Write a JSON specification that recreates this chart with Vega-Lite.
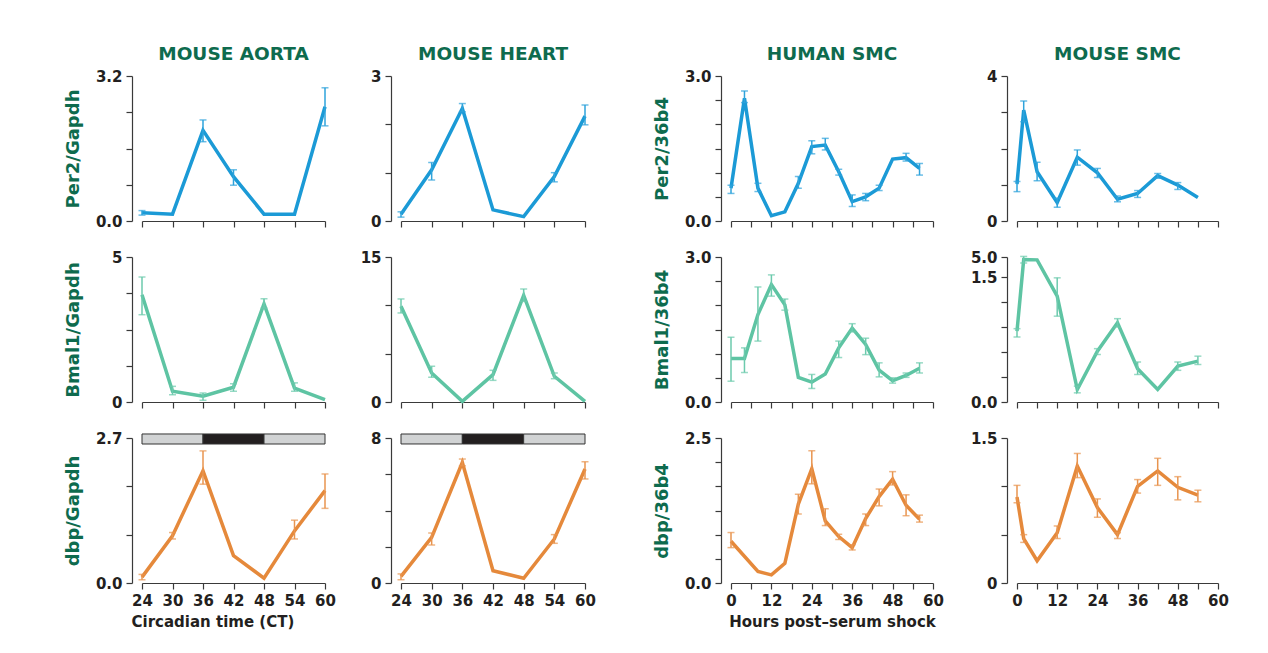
{
  "$schema": "https://vega.github.io/schema/vega-lite/v6.json",
  "background": "white",
  "padding": {"left": 64, "top": 44, "right": 5, "bottom": 5},
  "datasets": {
    "main": [
      {"p":"A1","t":24,"v":0.18,"lo":0.13,"hi":0.23},
      {"p":"A1","t":30,"v":0.15},
      {"p":"A1","t":36,"v":2.0,"lo":1.75,"hi":2.23},
      {"p":"A1","t":42,"v":0.98,"lo":0.79,"hi":1.13},
      {"p":"A1","t":48,"v":0.15},
      {"p":"A1","t":54,"v":0.15},
      {"p":"A1","t":60,"v":2.52,"lo":2.10,"hi":2.94},
      {"p":"H1","t":24,"v":0.14,"lo":0.08,"hi":0.19},
      {"p":"H1","t":30,"v":1.06,"lo":0.85,"hi":1.21},
      {"p":"H1","t":36,"v":2.33,"lo":2.26,"hi":2.43},
      {"p":"H1","t":42,"v":0.23},
      {"p":"H1","t":48,"v":0.09},
      {"p":"H1","t":54,"v":0.92,"lo":0.81,"hi":1.0},
      {"p":"H1","t":60,"v":2.17,"lo":1.99,"hi":2.40},
      {"p":"S1","t":0,"v":0.68,"lo":0.57,"hi":0.74},
      {"p":"S1","t":4,"v":2.54,"lo":2.45,"hi":2.69},
      {"p":"S1","t":8,"v":0.68,"lo":0.61,"hi":0.78},
      {"p":"S1","t":12,"v":0.11},
      {"p":"S1","t":16,"v":0.19},
      {"p":"S1","t":20,"v":0.78,"lo":0.68,"hi":0.92},
      {"p":"S1","t":24,"v":1.54,"lo":1.39,"hi":1.66},
      {"p":"S1","t":28,"v":1.57,"lo":1.47,"hi":1.71},
      {"p":"S1","t":32,"v":1.02,"lo":0.95,"hi":1.07},
      {"p":"S1","t":36,"v":0.40,"lo":0.30,"hi":0.54},
      {"p":"S1","t":40,"v":0.50,"lo":0.42,"hi":0.57},
      {"p":"S1","t":44,"v":0.68,"lo":0.63,"hi":0.74},
      {"p":"S1","t":48,"v":1.28},
      {"p":"S1","t":52,"v":1.31,"lo":1.24,"hi":1.40},
      {"p":"S1","t":56,"v":1.09,"lo":0.95,"hi":1.19},
      {"p":"M1","t":0,"v":1.02,"lo":0.81,"hi":1.09},
      {"p":"M1","t":2,"v":3.06,"lo":2.74,"hi":3.31},
      {"p":"M1","t":6,"v":1.36,"lo":1.11,"hi":1.62},
      {"p":"M1","t":12,"v":0.51,"lo":0.38,"hi":0.63},
      {"p":"M1","t":18,"v":1.76,"lo":1.54,"hi":1.96},
      {"p":"M1","t":24,"v":1.33,"lo":1.20,"hi":1.45},
      {"p":"M1","t":30,"v":0.60,"lo":0.53,"hi":0.69},
      {"p":"M1","t":36,"v":0.76,"lo":0.65,"hi":0.84},
      {"p":"M1","t":42,"v":1.25,"lo":1.18,"hi":1.31},
      {"p":"M1","t":48,"v":0.99,"lo":0.87,"hi":1.06},
      {"p":"M1","t":54,"v":0.65},
      {"p":"A2","t":24,"v":3.70,"lo":3.01,"hi":4.31},
      {"p":"A2","t":30,"v":0.37,"lo":0.25,"hi":0.54},
      {"p":"A2","t":36,"v":0.20,"lo":0.06,"hi":0.31},
      {"p":"A2","t":42,"v":0.51,"lo":0.37,"hi":0.63},
      {"p":"A2","t":48,"v":3.38,"lo":3.24,"hi":3.56},
      {"p":"A2","t":54,"v":0.48,"lo":0.37,"hi":0.66},
      {"p":"A2","t":60,"v":0.08},
      {"p":"H2","t":24,"v":9.9,"lo":9.21,"hi":10.66},
      {"p":"H2","t":30,"v":3.0,"lo":2.55,"hi":3.69},
      {"p":"H2","t":36,"v":0.07},
      {"p":"H2","t":42,"v":2.83,"lo":2.24,"hi":3.28},
      {"p":"H2","t":48,"v":11.03,"lo":10.41,"hi":11.69},
      {"p":"H2","t":54,"v":2.66,"lo":2.41,"hi":3.0},
      {"p":"H2","t":60,"v":0.07},
      {"p":"S2","t":0,"v":0.90,"lo":0.43,"hi":1.34},
      {"p":"S2","t":4,"v":0.90,"lo":0.61,"hi":1.12},
      {"p":"S2","t":8,"v":1.81,"lo":1.26,"hi":2.38},
      {"p":"S2","t":12,"v":2.43,"lo":2.19,"hi":2.63},
      {"p":"S2","t":16,"v":2.01,"lo":1.90,"hi":2.13},
      {"p":"S2","t":20,"v":0.51},
      {"p":"S2","t":24,"v":0.41,"lo":0.28,"hi":0.57},
      {"p":"S2","t":28,"v":0.58},
      {"p":"S2","t":32,"v":1.12,"lo":0.92,"hi":1.26},
      {"p":"S2","t":36,"v":1.53,"lo":1.45,"hi":1.62},
      {"p":"S2","t":40,"v":1.19,"lo":0.98,"hi":1.32},
      {"p":"S2","t":44,"v":0.66,"lo":0.52,"hi":0.81},
      {"p":"S2","t":48,"v":0.44,"lo":0.39,"hi":0.50},
      {"p":"S2","t":52,"v":0.55,"lo":0.51,"hi":0.60},
      {"p":"S2","t":56,"v":0.70,"lo":0.60,"hi":0.81},
      {"p":"M2","t":0,"v":0.85,"lo":0.78,"hi":0.88},
      {"p":"M2","t":2,"v":4.55,"lo":3.95,"hi":5.1},
      {"p":"M2","t":6,"v":4.5},
      {"p":"M2","t":12,"v":1.27,"lo":1.03,"hi":1.49},
      {"p":"M2","t":18,"v":0.15,"lo":0.11,"hi":0.19},
      {"p":"M2","t":24,"v":0.61,"lo":0.57,"hi":0.64},
      {"p":"M2","t":30,"v":0.95,"lo":0.90,"hi":1.0},
      {"p":"M2","t":36,"v":0.40,"lo":0.33,"hi":0.48},
      {"p":"M2","t":42,"v":0.15},
      {"p":"M2","t":48,"v":0.43,"lo":0.38,"hi":0.48},
      {"p":"M2","t":54,"v":0.49,"lo":0.45,"hi":0.55},
      {"p":"A3","t":24,"v":0.11,"lo":0.06,"hi":0.16},
      {"p":"A3","t":30,"v":0.88,"lo":0.82,"hi":0.94},
      {"p":"A3","t":36,"v":2.09,"lo":1.84,"hi":2.46},
      {"p":"A3","t":42,"v":0.51},
      {"p":"A3","t":48,"v":0.09},
      {"p":"A3","t":54,"v":0.97,"lo":0.82,"hi":1.17},
      {"p":"A3","t":60,"v":1.72,"lo":1.39,"hi":2.03},
      {"p":"H3","t":24,"v":0.37,"lo":0.18,"hi":0.5},
      {"p":"H3","t":30,"v":2.52,"lo":2.10,"hi":2.76},
      {"p":"H3","t":36,"v":6.65,"lo":6.47,"hi":6.84},
      {"p":"H3","t":42,"v":0.68},
      {"p":"H3","t":48,"v":0.26},
      {"p":"H3","t":54,"v":2.43,"lo":2.19,"hi":2.67},
      {"p":"H3","t":60,"v":6.29,"lo":5.74,"hi":6.69},
      {"p":"S3","t":0,"v":0.72,"lo":0.61,"hi":0.87},
      {"p":"S3","t":8,"v":0.20},
      {"p":"S3","t":12,"v":0.14},
      {"p":"S3","t":16,"v":0.34},
      {"p":"S3","t":20,"v":1.36,"lo":1.19,"hi":1.53},
      {"p":"S3","t":24,"v":1.97,"lo":1.71,"hi":2.28},
      {"p":"S3","t":28,"v":1.07,"lo":0.99,"hi":1.28},
      {"p":"S3","t":32,"v":0.80,"lo":0.75,"hi":0.84},
      {"p":"S3","t":36,"v":0.61,"lo":0.57,"hi":0.66},
      {"p":"S3","t":40,"v":1.11,"lo":0.99,"hi":1.19},
      {"p":"S3","t":44,"v":1.49,"lo":1.33,"hi":1.62},
      {"p":"S3","t":48,"v":1.79,"lo":1.69,"hi":1.92},
      {"p":"S3","t":52,"v":1.34,"lo":1.16,"hi":1.52},
      {"p":"S3","t":56,"v":1.10,"lo":1.05,"hi":1.17},
      {"p":"M3","t":0,"v":0.89,"lo":0.83,"hi":1.01},
      {"p":"M3","t":2,"v":0.46,"lo":0.42,"hi":0.50},
      {"p":"M3","t":6,"v":0.23},
      {"p":"M3","t":12,"v":0.52,"lo":0.46,"hi":0.59},
      {"p":"M3","t":18,"v":1.21,"lo":1.09,"hi":1.34},
      {"p":"M3","t":24,"v":0.78,"lo":0.68,"hi":0.87},
      {"p":"M3","t":30,"v":0.50,"lo":0.46,"hi":0.52},
      {"p":"M3","t":36,"v":1.0,"lo":0.93,"hi":1.07},
      {"p":"M3","t":42,"v":1.16,"lo":1.01,"hi":1.29},
      {"p":"M3","t":48,"v":0.99,"lo":0.86,"hi":1.10},
      {"p":"M3","t":54,"v":0.91,"lo":0.84,"hi":0.96}
    ],
    "ld": [
      {"t":24,"t2":36,"phase":"light"},
      {"t":36,"t2":48,"phase":"dark"},
      {"t":48,"t2":60,"phase":"light"}
    ]
  },
  "spacing": 57,
  "hconcat": [
    {
      "spacing": 24,
      "hconcat": [
        {
          "bounds": "flush",
          "spacing": 36,
          "vconcat": [
            {
              "width": 183, "height": 145,
              "title": "MOUSE AORTA",
              "resolve": {"axis": {"x": "independent", "y": "independent"}},
              "layer": [
                {"data":{"name":"main"},"transform":[{"filter":"datum.p=='A1'"}],
                 "mark":{"type":"line","color":"#1b9ad6","strokeWidth":3.5},
                 "encoding":{
                   "x":{"field":"t","type":"quantitative","scale":{"domain":[24,60]},"axis":{"values":[24,30,36,42,48,54,60],"labels":false,"title":null}},
                   "y":{"field":"v","type":"quantitative","scale":{"domain":[0,3.2]},"axis":{"values":[0,0.8,1.6,2.4,3.2],"format":".1f","labelExpr":"datum.value==0||datum.value==3.2?datum.label:''","labelOverlap":false,"offset":10,"title":"Per2/Gapdh","titleX":-50}}}},
                {"data":{"name":"main"},"transform":[{"filter":"datum.p=='A1' && isValid(datum.lo)"}],
                 "mark":{"type":"rule","color":"#2ea3db","strokeWidth":1.5},
                 "encoding":{"x":{"field":"t","type":"quantitative","scale":{"domain":[24,60]},"axis":null},
                   "y":{"field":"lo","type":"quantitative","scale":{"domain":[0,3.2]},"axis":null},"y2":{"field":"hi"}}},
                {"data":{"name":"main"},"transform":[{"filter":"datum.p=='A1' && isValid(datum.lo)"},{"fold":["lo","hi"]}],
                 "mark":{"type":"tick","orient":"horizontal","color":"#2ea3db","size":7,"thickness":1.5},
                 "encoding":{"x":{"field":"t","type":"quantitative","scale":{"domain":[24,60]},"axis":null},
                   "y":{"field":"value","type":"quantitative","scale":{"domain":[0,3.2]},"axis":null}}}
              ]
            },
            {
              "width": 183, "height": 145,
              "resolve": {"axis": {"x": "independent", "y": "independent"}},
              "layer": [
                {"data":{"name":"main"},"transform":[{"filter":"datum.p=='A2'"}],
                 "mark":{"type":"line","color":"#5ec4a3","strokeWidth":3.5},
                 "encoding":{
                   "x":{"field":"t","type":"quantitative","scale":{"domain":[24,60]},"axis":{"values":[24,30,36,42,48,54,60],"labels":false,"title":null}},
                   "y":{"field":"v","type":"quantitative","scale":{"domain":[0,5]},"axis":{"values":[0,1.25,2.5,3.75,5],"format":"d","labelExpr":"datum.value==0||datum.value==5?datum.label:''","labelOverlap":false,"offset":10,"title":"Bmal1/Gapdh","titleX":-50}}}},
                {"data":{"name":"main"},"transform":[{"filter":"datum.p=='A2' && isValid(datum.lo)"}],
                 "mark":{"type":"rule","color":"#6ccaad","strokeWidth":1.5},
                 "encoding":{"x":{"field":"t","type":"quantitative","scale":{"domain":[24,60]},"axis":null},
                   "y":{"field":"lo","type":"quantitative","scale":{"domain":[0,5]},"axis":null},"y2":{"field":"hi"}}},
                {"data":{"name":"main"},"transform":[{"filter":"datum.p=='A2' && isValid(datum.lo)"},{"fold":["lo","hi"]}],
                 "mark":{"type":"tick","orient":"horizontal","color":"#6ccaad","size":7,"thickness":1.5},
                 "encoding":{"x":{"field":"t","type":"quantitative","scale":{"domain":[24,60]},"axis":null},
                   "y":{"field":"value","type":"quantitative","scale":{"domain":[0,5]},"axis":null}}}
              ]
            },
            {
              "width": 183, "height": 145,
              "resolve": {"axis": {"x": "independent", "y": "independent"}},
              "layer": [
                {"data":{"name":"ld"},
                 "mark":{"type":"rect","stroke":"#333333","strokeWidth":1},
                 "encoding":{"x":{"field":"t","type":"quantitative","scale":{"domain":[24,60]},"axis":null},"x2":{"field":"t2"},
                   "y":{"datum":2.775,"type":"quantitative","scale":{"domain":[0,2.7]},"axis":null},"y2":{"datum":2.588},
                   "fill":{"field":"phase","type":"nominal","scale":{"domain":["light","dark"],"range":["#d1d3d4","#231f20"]},"legend":null}}},
                {"data":{"name":"main"},"transform":[{"filter":"datum.p=='A3'"}],
                 "mark":{"type":"line","color":"#e5893b","strokeWidth":3.5},
                 "encoding":{
                   "x":{"field":"t","type":"quantitative","scale":{"domain":[24,60]},"axis":{"values":[24,30,36,42,48,54,60],"labelOverlap":false,"title":"Circadian time (CT)","titleX":-11,"titleAlign":"left","titlePadding":6}},
                   "y":{"field":"v","type":"quantitative","scale":{"domain":[0,2.7]},"axis":{"values":[0,0.9,1.8,2.7],"format":".1f","labelExpr":"datum.value==0||datum.value==2.7?datum.label:''","labelOverlap":false,"offset":10,"title":"dbp/Gapdh","titleX":-50}}}},
                {"data":{"name":"main"},"transform":[{"filter":"datum.p=='A3' && isValid(datum.lo)"}],
                 "mark":{"type":"rule","color":"#e8944f","strokeWidth":1.5},
                 "encoding":{"x":{"field":"t","type":"quantitative","scale":{"domain":[24,60]},"axis":null},
                   "y":{"field":"lo","type":"quantitative","scale":{"domain":[0,2.7]},"axis":null},"y2":{"field":"hi"}}},
                {"data":{"name":"main"},"transform":[{"filter":"datum.p=='A3' && isValid(datum.lo)"},{"fold":["lo","hi"]}],
                 "mark":{"type":"tick","orient":"horizontal","color":"#e8944f","size":7,"thickness":1.5},
                 "encoding":{"x":{"field":"t","type":"quantitative","scale":{"domain":[24,60]},"axis":null},
                   "y":{"field":"value","type":"quantitative","scale":{"domain":[0,2.7]},"axis":null}}}
              ]
            }
          ]
        },
        {
          "bounds": "flush",
          "spacing": 36,
          "vconcat": [
            {
              "width": 184, "height": 145,
              "title": "MOUSE HEART",
              "resolve": {"axis": {"x": "independent", "y": "independent"}},
              "layer": [
                {"data":{"name":"main"},"transform":[{"filter":"datum.p=='H1'"}],
                 "mark":{"type":"line","color":"#1b9ad6","strokeWidth":3.5},
                 "encoding":{
                   "x":{"field":"t","type":"quantitative","scale":{"domain":[24,60]},"axis":{"values":[24,30,36,42,48,54,60],"labels":false,"title":null}},
                   "y":{"field":"v","type":"quantitative","scale":{"domain":[0,3]},"axis":{"values":[0,1,2,3],"format":"d","labelExpr":"datum.value==0||datum.value==3?datum.label:''","labelOverlap":false,"offset":10,"title":null}}}},
                {"data":{"name":"main"},"transform":[{"filter":"datum.p=='H1' && isValid(datum.lo)"}],
                 "mark":{"type":"rule","color":"#2ea3db","strokeWidth":1.5},
                 "encoding":{"x":{"field":"t","type":"quantitative","scale":{"domain":[24,60]},"axis":null},
                   "y":{"field":"lo","type":"quantitative","scale":{"domain":[0,3]},"axis":null},"y2":{"field":"hi"}}},
                {"data":{"name":"main"},"transform":[{"filter":"datum.p=='H1' && isValid(datum.lo)"},{"fold":["lo","hi"]}],
                 "mark":{"type":"tick","orient":"horizontal","color":"#2ea3db","size":7,"thickness":1.5},
                 "encoding":{"x":{"field":"t","type":"quantitative","scale":{"domain":[24,60]},"axis":null},
                   "y":{"field":"value","type":"quantitative","scale":{"domain":[0,3]},"axis":null}}}
              ]
            },
            {
              "width": 184, "height": 145,
              "resolve": {"axis": {"x": "independent", "y": "independent"}},
              "layer": [
                {"data":{"name":"main"},"transform":[{"filter":"datum.p=='H2'"}],
                 "mark":{"type":"line","color":"#5ec4a3","strokeWidth":3.5},
                 "encoding":{
                   "x":{"field":"t","type":"quantitative","scale":{"domain":[24,60]},"axis":{"values":[24,30,36,42,48,54,60],"labels":false,"title":null}},
                   "y":{"field":"v","type":"quantitative","scale":{"domain":[0,15]},"axis":{"values":[0,5,10,15],"format":"d","labelExpr":"datum.value==0||datum.value==15?datum.label:''","labelOverlap":false,"offset":10,"title":null}}}},
                {"data":{"name":"main"},"transform":[{"filter":"datum.p=='H2' && isValid(datum.lo)"}],
                 "mark":{"type":"rule","color":"#6ccaad","strokeWidth":1.5},
                 "encoding":{"x":{"field":"t","type":"quantitative","scale":{"domain":[24,60]},"axis":null},
                   "y":{"field":"lo","type":"quantitative","scale":{"domain":[0,15]},"axis":null},"y2":{"field":"hi"}}},
                {"data":{"name":"main"},"transform":[{"filter":"datum.p=='H2' && isValid(datum.lo)"},{"fold":["lo","hi"]}],
                 "mark":{"type":"tick","orient":"horizontal","color":"#6ccaad","size":7,"thickness":1.5},
                 "encoding":{"x":{"field":"t","type":"quantitative","scale":{"domain":[24,60]},"axis":null},
                   "y":{"field":"value","type":"quantitative","scale":{"domain":[0,15]},"axis":null}}}
              ]
            },
            {
              "width": 184, "height": 145,
              "resolve": {"axis": {"x": "independent", "y": "independent"}},
              "layer": [
                {"data":{"name":"ld"},
                 "mark":{"type":"rect","stroke":"#333333","strokeWidth":1},
                 "encoding":{"x":{"field":"t","type":"quantitative","scale":{"domain":[24,60]},"axis":null},"x2":{"field":"t2"},
                   "y":{"datum":8.22,"type":"quantitative","scale":{"domain":[0,8]},"axis":null},"y2":{"datum":7.67},
                   "fill":{"field":"phase","type":"nominal","scale":{"domain":["light","dark"],"range":["#d1d3d4","#231f20"]},"legend":null}}},
                {"data":{"name":"main"},"transform":[{"filter":"datum.p=='H3'"}],
                 "mark":{"type":"line","color":"#e5893b","strokeWidth":3.5},
                 "encoding":{
                   "x":{"field":"t","type":"quantitative","scale":{"domain":[24,60]},"axis":{"values":[24,30,36,42,48,54,60],"labelOverlap":false,"title":null}},
                   "y":{"field":"v","type":"quantitative","scale":{"domain":[0,8]},"axis":{"values":[0,2,4,6,8],"format":"d","labelExpr":"datum.value==0||datum.value==8?datum.label:''","labelOverlap":false,"offset":10,"title":null}}}},
                {"data":{"name":"main"},"transform":[{"filter":"datum.p=='H3' && isValid(datum.lo)"}],
                 "mark":{"type":"rule","color":"#e8944f","strokeWidth":1.5},
                 "encoding":{"x":{"field":"t","type":"quantitative","scale":{"domain":[24,60]},"axis":null},
                   "y":{"field":"lo","type":"quantitative","scale":{"domain":[0,8]},"axis":null},"y2":{"field":"hi"}}},
                {"data":{"name":"main"},"transform":[{"filter":"datum.p=='H3' && isValid(datum.lo)"},{"fold":["lo","hi"]}],
                 "mark":{"type":"tick","orient":"horizontal","color":"#e8944f","size":7,"thickness":1.5},
                 "encoding":{"x":{"field":"t","type":"quantitative","scale":{"domain":[24,60]},"axis":null},
                   "y":{"field":"value","type":"quantitative","scale":{"domain":[0,8]},"axis":null}}}
              ]
            }
          ]
        }
      ]
    },
    {
      "spacing": 26,
      "hconcat": [
        {
          "bounds": "flush",
          "spacing": 36,
          "vconcat": [
            {
              "width": 202, "height": 145,
              "title": "HUMAN SMC",
              "resolve": {"axis": {"x": "independent", "y": "independent"}},
              "layer": [
                {"data":{"name":"main"},"transform":[{"filter":"datum.p=='S1'"}],
                 "mark":{"type":"line","color":"#1b9ad6","strokeWidth":3.5},
                 "encoding":{
                   "x":{"field":"t","type":"quantitative","scale":{"domain":[0,60]},"axis":{"values":[0,6,12,18,24,30,36,42,48,54,60],"labels":false,"title":null}},
                   "y":{"field":"v","type":"quantitative","scale":{"domain":[0,3]},"axis":{"values":[0,0.5,1,1.5,2,2.5,3],"format":".1f","labelExpr":"datum.value==0||datum.value==3?datum.label:''","labelOverlap":false,"offset":10,"title":"Per2/36b4","titleX":-50}}}},
                {"data":{"name":"main"},"transform":[{"filter":"datum.p=='S1' && isValid(datum.lo)"}],
                 "mark":{"type":"rule","color":"#2ea3db","strokeWidth":1.5},
                 "encoding":{"x":{"field":"t","type":"quantitative","scale":{"domain":[0,60]},"axis":null},
                   "y":{"field":"lo","type":"quantitative","scale":{"domain":[0,3]},"axis":null},"y2":{"field":"hi"}}},
                {"data":{"name":"main"},"transform":[{"filter":"datum.p=='S1' && isValid(datum.lo)"},{"fold":["lo","hi"]}],
                 "mark":{"type":"tick","orient":"horizontal","color":"#2ea3db","size":7,"thickness":1.5},
                 "encoding":{"x":{"field":"t","type":"quantitative","scale":{"domain":[0,60]},"axis":null},
                   "y":{"field":"value","type":"quantitative","scale":{"domain":[0,3]},"axis":null}}}
              ]
            },
            {
              "width": 202, "height": 145,
              "resolve": {"axis": {"x": "independent", "y": "independent"}},
              "layer": [
                {"data":{"name":"main"},"transform":[{"filter":"datum.p=='S2'"}],
                 "mark":{"type":"line","color":"#5ec4a3","strokeWidth":3.5},
                 "encoding":{
                   "x":{"field":"t","type":"quantitative","scale":{"domain":[0,60]},"axis":{"values":[0,6,12,18,24,30,36,42,48,54,60],"labels":false,"title":null}},
                   "y":{"field":"v","type":"quantitative","scale":{"domain":[0,3]},"axis":{"values":[0,0.5,1,1.5,2,2.5,3],"format":".1f","labelExpr":"datum.value==0||datum.value==3?datum.label:''","labelOverlap":false,"offset":10,"title":"Bmal1/36b4","titleX":-50}}}},
                {"data":{"name":"main"},"transform":[{"filter":"datum.p=='S2' && isValid(datum.lo)"}],
                 "mark":{"type":"rule","color":"#6ccaad","strokeWidth":1.5},
                 "encoding":{"x":{"field":"t","type":"quantitative","scale":{"domain":[0,60]},"axis":null},
                   "y":{"field":"lo","type":"quantitative","scale":{"domain":[0,3]},"axis":null},"y2":{"field":"hi"}}},
                {"data":{"name":"main"},"transform":[{"filter":"datum.p=='S2' && isValid(datum.lo)"},{"fold":["lo","hi"]}],
                 "mark":{"type":"tick","orient":"horizontal","color":"#6ccaad","size":7,"thickness":1.5},
                 "encoding":{"x":{"field":"t","type":"quantitative","scale":{"domain":[0,60]},"axis":null},
                   "y":{"field":"value","type":"quantitative","scale":{"domain":[0,3]},"axis":null}}}
              ]
            },
            {
              "width": 202, "height": 145,
              "resolve": {"axis": {"x": "independent", "y": "independent"}},
              "layer": [
                {"data":{"name":"main"},"transform":[{"filter":"datum.p=='S3'"}],
                 "mark":{"type":"line","color":"#e5893b","strokeWidth":3.5},
                 "encoding":{
                   "x":{"field":"t","type":"quantitative","scale":{"domain":[0,60]},"axis":{"values":[0,6,12,18,24,30,36,42,48,54,60],"labelExpr":"datum.value%12==0?datum.label:''","labelOverlap":false,"title":"Hours post–serum shock","titlePadding":6}},
                   "y":{"field":"v","type":"quantitative","scale":{"domain":[0,2.5]},"axis":{"values":[0,0.41667,0.83333,1.25,1.66667,2.08333,2.5],"format":".1f","labelExpr":"datum.value==0||datum.value==2.5?datum.label:''","labelOverlap":false,"offset":10,"title":"dbp/36b4","titleX":-50}}}},
                {"data":{"name":"main"},"transform":[{"filter":"datum.p=='S3' && isValid(datum.lo)"}],
                 "mark":{"type":"rule","color":"#e8944f","strokeWidth":1.5},
                 "encoding":{"x":{"field":"t","type":"quantitative","scale":{"domain":[0,60]},"axis":null},
                   "y":{"field":"lo","type":"quantitative","scale":{"domain":[0,2.5]},"axis":null},"y2":{"field":"hi"}}},
                {"data":{"name":"main"},"transform":[{"filter":"datum.p=='S3' && isValid(datum.lo)"},{"fold":["lo","hi"]}],
                 "mark":{"type":"tick","orient":"horizontal","color":"#e8944f","size":7,"thickness":1.5},
                 "encoding":{"x":{"field":"t","type":"quantitative","scale":{"domain":[0,60]},"axis":null},
                   "y":{"field":"value","type":"quantitative","scale":{"domain":[0,2.5]},"axis":null}}}
              ]
            }
          ]
        },
        {
          "bounds": "flush",
          "spacing": 36,
          "vconcat": [
            {
              "width": 201, "height": 145,
              "title": "MOUSE SMC",
              "resolve": {"axis": {"x": "independent", "y": "independent"}},
              "layer": [
                {"data":{"name":"main"},"transform":[{"filter":"datum.p=='M1'"}],
                 "mark":{"type":"line","color":"#1b9ad6","strokeWidth":3.5},
                 "encoding":{
                   "x":{"field":"t","type":"quantitative","scale":{"domain":[0,60]},"axis":{"values":[0,6,12,18,24,30,36,42,48,54,60],"labels":false,"title":null}},
                   "y":{"field":"v","type":"quantitative","scale":{"domain":[0,4]},"axis":{"values":[0,1,2,3,4],"format":"d","labelExpr":"datum.value==0||datum.value==4?datum.label:''","labelOverlap":false,"offset":10,"title":null}}}},
                {"data":{"name":"main"},"transform":[{"filter":"datum.p=='M1' && isValid(datum.lo)"}],
                 "mark":{"type":"rule","color":"#2ea3db","strokeWidth":1.5},
                 "encoding":{"x":{"field":"t","type":"quantitative","scale":{"domain":[0,60]},"axis":null},
                   "y":{"field":"lo","type":"quantitative","scale":{"domain":[0,4]},"axis":null},"y2":{"field":"hi"}}},
                {"data":{"name":"main"},"transform":[{"filter":"datum.p=='M1' && isValid(datum.lo)"},{"fold":["lo","hi"]}],
                 "mark":{"type":"tick","orient":"horizontal","color":"#2ea3db","size":7,"thickness":1.5},
                 "encoding":{"x":{"field":"t","type":"quantitative","scale":{"domain":[0,60]},"axis":null},
                   "y":{"field":"value","type":"quantitative","scale":{"domain":[0,4]},"axis":null}}}
              ]
            },
            {
              "width": 201, "height": 145,
              "resolve": {"axis": {"x": "independent", "y": "independent"}},
              "layer": [
                {"data":{"name":"main"},"transform":[{"filter":"datum.p=='M2'"}],
                 "mark":{"type":"line","color":"#5ec4a3","strokeWidth":3.5},
                 "encoding":{
                   "x":{"field":"t","type":"quantitative","scale":{"domain":[0,60]},"axis":{"values":[0,6,12,18,24,30,36,42,48,54,60],"labels":false,"title":null}},
                   "y":{"field":"v","type":"quantitative","scale":{"domain":[0,1.5,5],"range":[145,20,0]},"axis":{"values":[0,0.3,0.6,0.9,1.2,1.5,5],"format":".1f","labelExpr":"datum.value==0||datum.value==1.5||datum.value==5?datum.label:''","labelOverlap":false,"offset":10,"title":null}}}},
                {"data":{"name":"main"},"transform":[{"filter":"datum.p=='M2' && isValid(datum.lo)"}],
                 "mark":{"type":"rule","color":"#6ccaad","strokeWidth":1.5},
                 "encoding":{"x":{"field":"t","type":"quantitative","scale":{"domain":[0,60]},"axis":null},
                   "y":{"field":"lo","type":"quantitative","scale":{"domain":[0,1.5,5],"range":[145,20,0]},"axis":null},"y2":{"field":"hi"}}},
                {"data":{"name":"main"},"transform":[{"filter":"datum.p=='M2' && isValid(datum.lo)"},{"fold":["lo","hi"]}],
                 "mark":{"type":"tick","orient":"horizontal","color":"#6ccaad","size":7,"thickness":1.5},
                 "encoding":{"x":{"field":"t","type":"quantitative","scale":{"domain":[0,60]},"axis":null},
                   "y":{"field":"value","type":"quantitative","scale":{"domain":[0,1.5,5],"range":[145,20,0]},"axis":null}}}
              ]
            },
            {
              "width": 201, "height": 145,
              "resolve": {"axis": {"x": "independent", "y": "independent"}},
              "layer": [
                {"data":{"name":"main"},"transform":[{"filter":"datum.p=='M3'"}],
                 "mark":{"type":"line","color":"#e5893b","strokeWidth":3.5},
                 "encoding":{
                   "x":{"field":"t","type":"quantitative","scale":{"domain":[0,60]},"axis":{"values":[0,6,12,18,24,30,36,42,48,54,60],"labelExpr":"datum.value%12==0?datum.label:''","labelOverlap":false,"title":null}},
                   "y":{"field":"v","type":"quantitative","scale":{"domain":[0,1.5]},"axis":{"values":[0,0.5,1,1.5],"format":"~g","labelExpr":"datum.value==0||datum.value==1.5?datum.label:''","labelOverlap":false,"offset":10,"title":null}}}},
                {"data":{"name":"main"},"transform":[{"filter":"datum.p=='M3' && isValid(datum.lo)"}],
                 "mark":{"type":"rule","color":"#e8944f","strokeWidth":1.5},
                 "encoding":{"x":{"field":"t","type":"quantitative","scale":{"domain":[0,60]},"axis":null},
                   "y":{"field":"lo","type":"quantitative","scale":{"domain":[0,1.5]},"axis":null},"y2":{"field":"hi"}}},
                {"data":{"name":"main"},"transform":[{"filter":"datum.p=='M3' && isValid(datum.lo)"},{"fold":["lo","hi"]}],
                 "mark":{"type":"tick","orient":"horizontal","color":"#e8944f","size":7,"thickness":1.5},
                 "encoding":{"x":{"field":"t","type":"quantitative","scale":{"domain":[0,60]},"axis":null},
                   "y":{"field":"value","type":"quantitative","scale":{"domain":[0,1.5]},"axis":null}}}
              ]
            }
          ]
        }
      ]
    }
  ],
  "config": {
    "view": {"stroke": null},
    "font": "DejaVu Sans",
    "axis": {
      "labelFont": "DejaVu Sans", "labelFontSize": 15, "labelFontWeight": "bold", "labelColor": "#231f20",
      "domainColor": "#3a3a3a", "tickColor": "#3a3a3a", "domainWidth": 1.2, "tickWidth": 1.2, "tickSize": 6,
      "grid": false, "labelPadding": 4, "labelFlush": false, "labelOverlap": false,
      "titleFont": "DejaVu Sans", "titleFontWeight": "bold", "titleFontSize": 18, "titleColor": "#0e6b4e"
    },
    "axisX": {"titleColor": "#231f20", "titleFontSize": 15},
    "title": {"font": "DejaVu Sans", "fontSize": 18.5, "fontWeight": "bold", "color": "#0e6b4e", "frame": "group", "anchor": "middle", "offset": 6}
  }
}
